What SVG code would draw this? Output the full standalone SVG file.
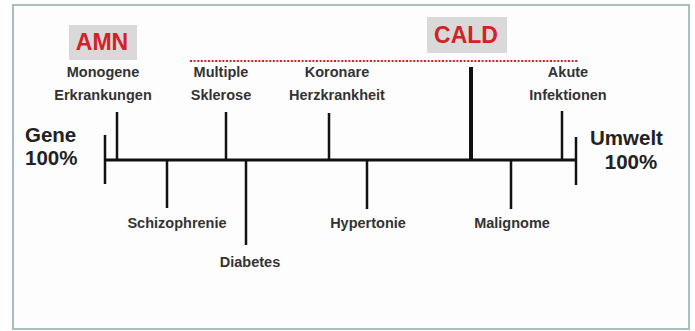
<svg xmlns="http://www.w3.org/2000/svg" width="695" height="331" viewBox="0 0 695 331">
<style>
.lbl{font-family:"Liberation Sans",Arial,sans-serif;font-weight:bold;font-size:14.5px;fill:#333;text-anchor:middle}
.big{font-family:"Liberation Sans",Arial,sans-serif;font-weight:bold;font-size:20.5px;fill:#222}
.red{font-family:"Liberation Sans",Arial,sans-serif;font-weight:bold;font-size:23px;fill:#d42027;text-anchor:middle}
.tag{fill:#d9d9d9}
.tick{stroke:#111;stroke-width:2.5;fill:none}
</style>
<rect x="0" y="0" width="695" height="331" fill="#ffffff"/>
<rect x="13" y="5" width="676" height="324" fill="#fdfdfd" stroke="#a9bebe" stroke-width="2"/>
<g id="connectors">
<line x1="105" y1="160" x2="576" y2="160" stroke="#111" stroke-width="3"/>
<line class="tick" x1="105" y1="135" x2="105" y2="184"/>
<line class="tick" x1="576" y1="137" x2="576" y2="185"/>
<line class="tick" x1="117" y1="112" x2="117" y2="160"/>
<line class="tick" x1="226" y1="112" x2="226" y2="160"/>
<line class="tick" x1="329" y1="113" x2="329" y2="160"/>
<line x1="471" y1="67" x2="471" y2="160" stroke="#111" stroke-width="4"/>
<line class="tick" x1="562" y1="111" x2="562" y2="160"/>
<line class="tick" x1="167" y1="160" x2="167" y2="208"/>
<line class="tick" x1="246" y1="160" x2="246" y2="245"/>
<line class="tick" x1="367" y1="160" x2="367" y2="209"/>
<line class="tick" x1="511" y1="160" x2="511" y2="209"/>
<line x1="190" y1="61" x2="578" y2="61" stroke="#d42027" stroke-width="2" stroke-dasharray="2 1.6"/>
</g>
<g id="gene"><text class="big" x="25" y="142">Gene</text><text class="big" x="25" y="165">100%</text></g>
<g id="umwelt"><text class="big" x="590" y="145" font-size="22">Umwelt</text><text class="big" x="631" y="169" text-anchor="middle">100%</text></g>
<g id="amn"><rect class="tag" x="69" y="25" width="68" height="35"/><text class="red" x="102" y="50">AMN</text></g>
<g id="cald"><rect class="tag" x="427" y="17" width="80" height="36"/><text class="red" x="466" y="43">CALD</text></g>
<g id="monogene"><text class="lbl" x="103" y="77">Monogene</text><text class="lbl" x="103" y="100">Erkrankungen</text></g>
<g id="ms"><text class="lbl" x="221" y="77">Multiple</text><text class="lbl" x="221" y="100">Sklerose</text></g>
<g id="khk"><text class="lbl" x="337" y="77">Koronare</text><text class="lbl" x="337" y="100">Herzkrankheit</text></g>
<g id="akute"><text class="lbl" x="568" y="77">Akute</text><text class="lbl" x="568" y="100">Infektionen</text></g>
<g id="schizo"><text class="lbl" x="177" y="228">Schizophrenie</text></g>
<g id="diabetes"><text class="lbl" x="250" y="267">Diabetes</text></g>
<g id="hyper"><text class="lbl" x="368" y="228">Hypertonie</text></g>
<g id="malig"><text class="lbl" x="512" y="228">Malignome</text></g>
</svg>
